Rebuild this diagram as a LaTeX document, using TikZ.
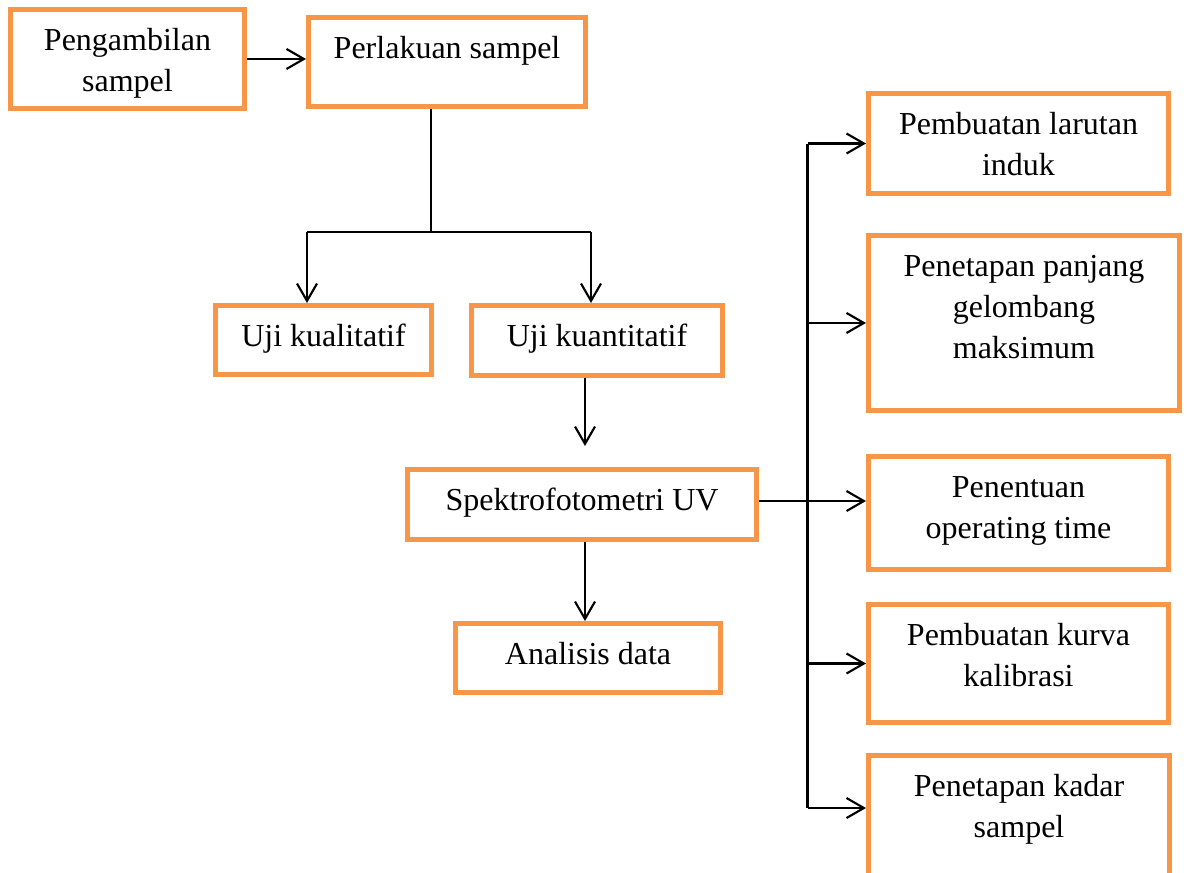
\documentclass[tikz,border=0pt]{standalone}
\usepackage{fontspec}
\setmainfont{Liberation Serif}
\usepackage{tikz}
\usetikzlibrary{arrows.meta}
\usepackage{xcolor}
\definecolor{boxorange}{HTML}{F79646}

\begin{document}
\begin{tikzpicture}
    \tikzset{
        box/.style={draw=boxorange,line width=1.875pt,inner sep=0pt,
            anchor=north west,align=flush center,text height=15.4pt,
            font=\fontsize{12}{15.4}\selectfont},
        link/.style={thick},
        arr/.style={thick,-{Straight Barb[length=6.5pt,width=7.5pt]}},
        x={(0.375pt,0pt)},
        y={(0pt,-0.375pt)}
    }
    \useasboundingbox (0,0) rectangle (1187,872);
    % left column
    \node[box,text width=87.75pt,text depth=21.7pt] (peng) at (8,7) {Pengambilan\\sampel};
    \node[box,text width=103.9pt,text depth=18pt] (perl) at (306,15) {Perlakuan sampel};
    \node[box,text width=81pt,text depth=10.5pt] (kual) at (213,303) {Uji kualitatif};
    \node[box,text width=94.1pt,text depth=10.85pt] (kuan) at (469,303) {Uji kuantitatif};
    \node[box,text width=130.9pt,text depth=10.85pt] (spek) at (405,467) {Spektrofotometri UV};
    \node[box,text width=99.4pt,text depth=10.5pt] (anal) at (453,621) {Analisis data};
    % right column
    \node[box,text width=112.5pt,text depth=22.1pt] (induk) at (866,91) {Pembuatan larutan\\induk};
    \node[box,text width=116.6pt,text depth=50.2pt] (panjang) at (866,233) {Penetapan panjang\\gelombang\\maksimum};
    \node[box,text width=112.5pt,text depth=27pt] (optime) at (866,454) {Penentuan\\operating time};
    \node[box,text width=112.5pt,text depth=28.85pt] (kurva) at (866,602) {Pembuatan kurva\\kalibrasi};
    \node[box,text width=112.9pt,text depth=44.6pt] (kadar) at (866,753) {Penetapan kadar\\sampel};
    % connectors
    \coordinate (split) at (431,232);
    \coordinate (left) at (307,232);
    \coordinate (right) at (591,232);
    \coordinate (gap) at (585,446);
    \coordinate (bus) at (807.5,501);
    \coordinate (busend) at (807.5,808);
    \draw[arr] (peng.east) -- (peng.east -| perl.west);
    \draw[link] (perl.south -| split) -- (split);
    \draw[link] (left) -- (right);
    \draw[arr] (left) -- (left |- kual.north);
    \draw[arr] (right) -- (right |- kuan.north);
    \draw[arr] (kuan.south -| gap) -- (gap);
    \draw[arr] (spek.south -| gap) -- (anal.north -| gap);
    \draw[link] (spek.east |- bus) -- (bus);
    \draw[link] (bus |- induk.west) -- (busend);
    \foreach \n in {induk,panjang,kurva}
        \draw[arr] (bus |- \n.west) -- (\n.west);
    \draw[arr] (bus) -- (bus -| optime.west);
    \draw[arr] (busend) -- (busend -| kadar.west);
\end{tikzpicture}
\end{document}
